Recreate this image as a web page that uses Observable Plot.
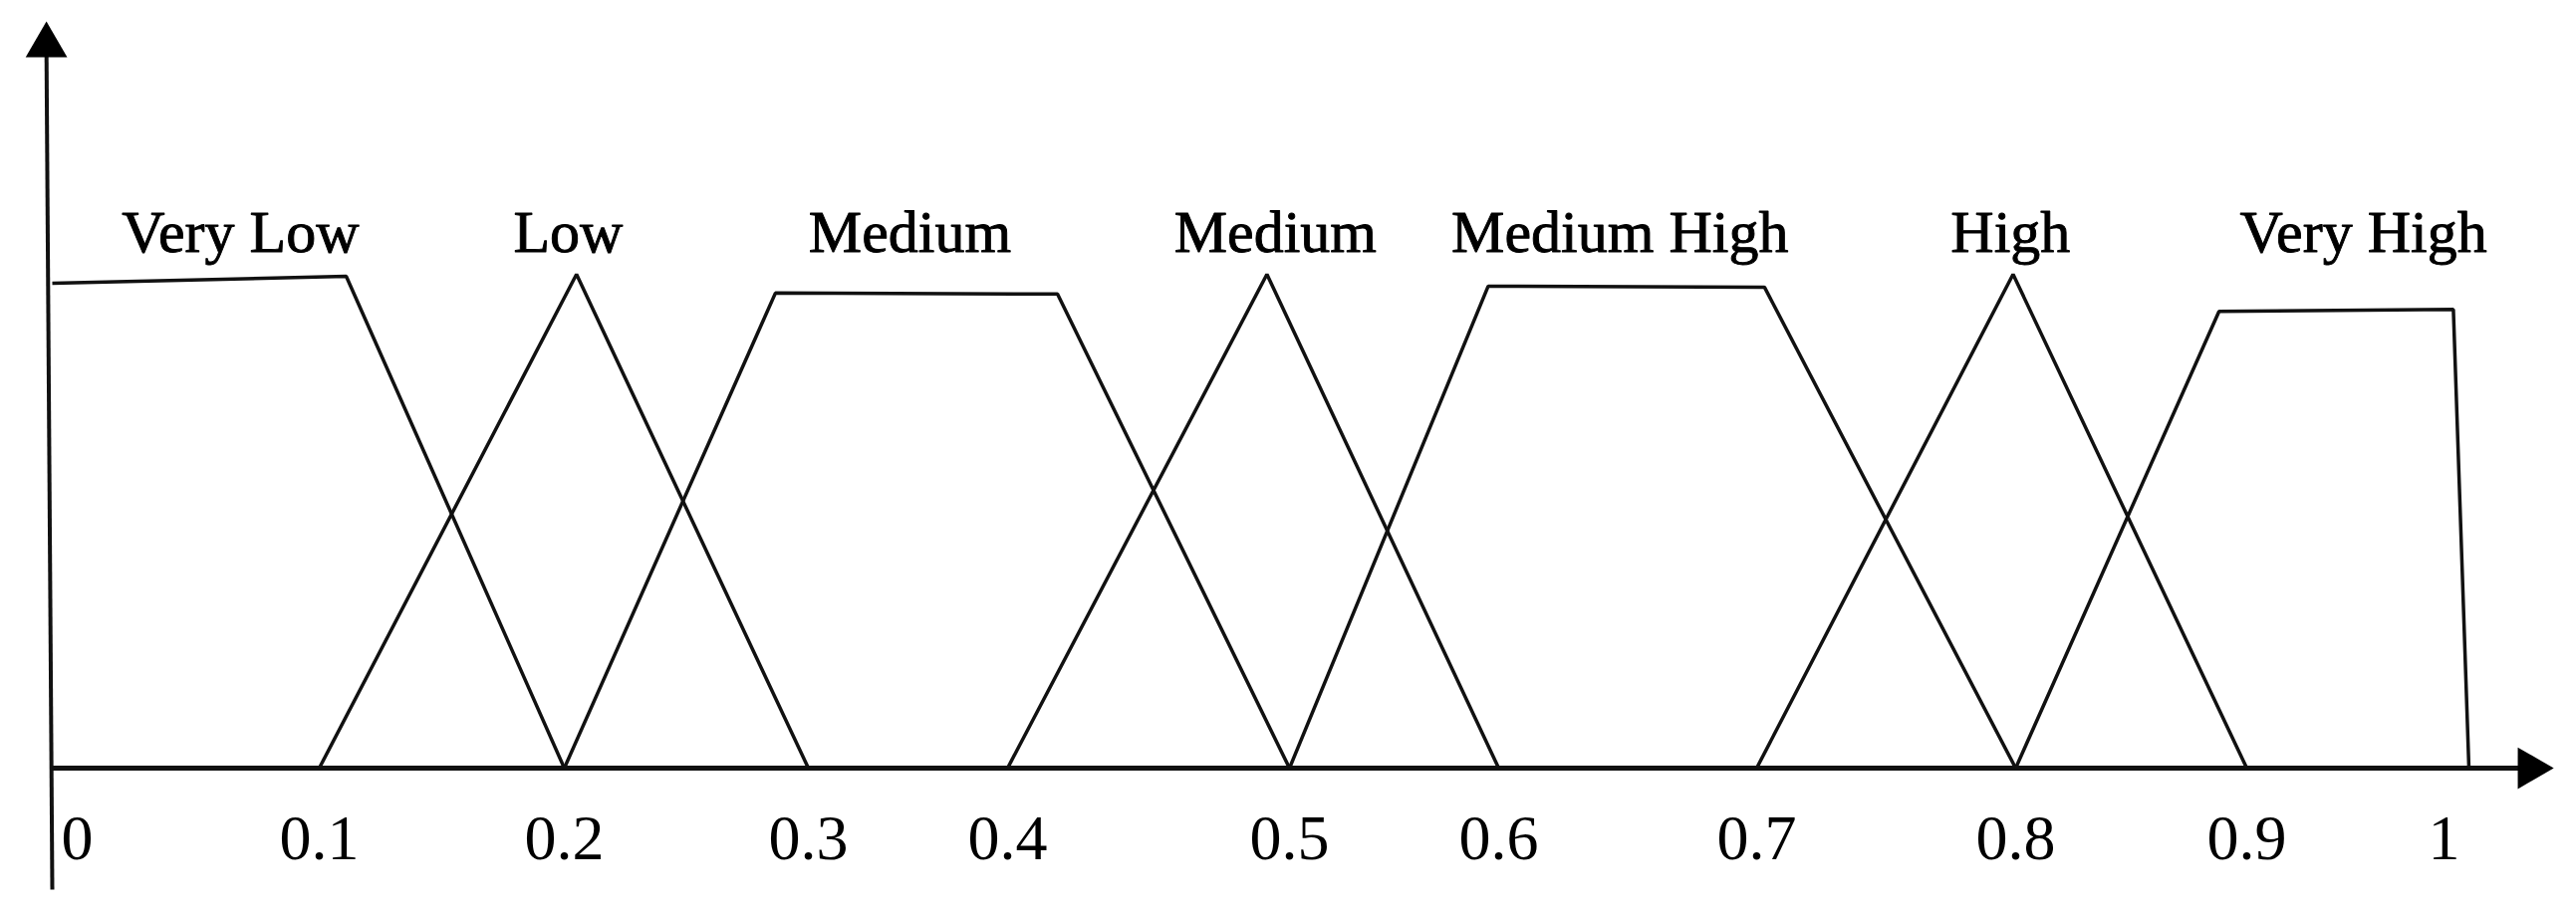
<!DOCTYPE html>
<html>
<head>
<meta charset="utf-8">
<script src="https://cdn.jsdelivr.net/npm/d3@7"></script>
<script src="https://cdn.jsdelivr.net/npm/@observablehq/plot@0.6"></script>
<style>
  html, body { margin: 0; padding: 0; background: #fff; }
  #chart svg { display: block; }
</style>
</head>
<body>
<div id="chart"></div>
<script>
// ---- Data ----
const tickValues = [0, 0.1, 0.2, 0.3, 0.4, 0.5, 0.6, 0.7, 0.8, 0.9, 1];
const tickLabels = ["0", "0.1", "0.2", "0.3", "0.4", "0.5", "0.6", "0.7", "0.8", "0.9", "1"];

const setNames = ["Very Low", "Low", "Medium", "Medium", "Medium High", "High", "Very High"];

// vertices of each membership function (x = universe value, y = membership)
const veryLowX    = [0, 0.111, 0.2];
const veryLowY    = [0.982, 0.996, 0];
const lowX        = [0.1, 0.205, 0.3];
const lowY        = [0, 1, 0];
const mediumAX    = [0.2, 0.2865, 0.4177, 0.5];
const mediumAY    = [0, 0.962, 0.960, 0];
const mediumBX    = [0.4, 0.492, 0.6];
const mediumBY    = [0, 1, 0];
const mediumHighX = [0.5, 0.595, 0.703, 0.8];
const mediumHighY = [0, 0.976, 0.974, 0];
const highX       = [0.7, 0.799, 0.9];
const highY       = [0, 1, 0];
const veryHighX   = [0.8, 0.888, 0.993, 1.0];
const veryHighY   = [0, 0.925, 0.929, 0];

// label anchor along the universe axis for each set name
const labelX = [0.0705, 0.2016, 0.351, 0.495, 0.647, 0.798, 0.9525];

// extent of the drawn axes (data units)
const yAxisExtent = [-0.246, 1.4637];
const xAxisExtent = [0, 1.0274];

// ---- Build tables ----
const setsX = [veryLowX, lowX, mediumAX, mediumBX, mediumHighX, highX, veryHighX];
const setsY = [veryLowY, lowY, mediumAY, mediumBY, mediumHighY, highY, veryHighY];
const points = setsX.flatMap((xs, i) => xs.map((x, j) => ({set: i, x, y: setsY[i][j]})));
const labels = setNames.map((name, i) => ({name, x: labelX[i]}));
const ticks = tickValues.map((v, i) => ({v, label: tickLabels[i]}));

const serif = "'Liberation Serif', 'DejaVu Serif', serif";
const ink = "#111";

const chart = Plot.plot({
  width: 2586,
  height: 915,
  marginTop: 275,
  marginBottom: 144,
  marginLeft: 0,
  marginRight: 0,
  style: {background: "#fff", fontFamily: serif},
  // the hand-drawn axis has uneven spacing between ticks
  x: {type: "linear", domain: tickValues,
      range: [52, 320, 566, 811, 1011, 1294, 1504, 1763, 2023, 2255, 2478], axis: null},
  y: {domain: [0, 1], axis: null},
  marks: [
    // y axis
    Plot.link([{x1: 0, x2: -0.0022, y1: yAxisExtent[0], y2: yAxisExtent[1]}],
      {x1: "x1", x2: "x2", y1: "y1", y2: "y2", stroke: ink, strokeWidth: 4}),
    Plot.dot([{x: -0.0022, y: yAxisExtent[1]}],
      {x: "x", y: "y", symbol: "triangle", r: 15.5, fill: "#000"}),
    // x axis
    Plot.link([{x1: xAxisExtent[0], x2: xAxisExtent[1] - 0.004, y: 0}],
      {x1: "x1", x2: "x2", y1: "y", y2: "y", stroke: ink, strokeWidth: 5}),
    Plot.dot([{x: xAxisExtent[1], y: 0}],
      {x: "x", y: "y", symbol: "triangle", r: 15.5, rotate: 90, fill: "#000"}),
    // membership functions
    Plot.line(points, {x: "x", y: "y", z: "set", stroke: ink, strokeWidth: 3.5,
      strokeLinejoin: "miter", strokeLinecap: "butt"}),
    // tick labels
    Plot.text(ticks.filter(d => d.v > 0 && d.v < 1), {x: "v", y: () => 0, text: "label",
      dy: 91, lineAnchor: "bottom", fontSize: 64, fontFamily: serif, fill: "#000"}),
    Plot.text(ticks.filter(d => d.v === 0), {x: "v", y: () => 0, text: "label",
      dy: 91, dx: 25, lineAnchor: "bottom", fontSize: 64, fontFamily: serif, fill: "#000"}),
    Plot.text(ticks.filter(d => d.v === 1), {x: "v", y: () => 0, text: "label",
      dy: 91, dx: -25, lineAnchor: "bottom", fontSize: 64, fontFamily: serif, fill: "#000"}),
    // set names
    Plot.text(labels, {x: "x", y: () => 1, text: "name", dy: -23, lineAnchor: "bottom",
      fontSize: 60, fontFamily: serif, fill: "#000", stroke: "#000", strokeWidth: 0.9})
  ]
});

document.getElementById("chart").appendChild(chart);
</script>
</body>
</html>
